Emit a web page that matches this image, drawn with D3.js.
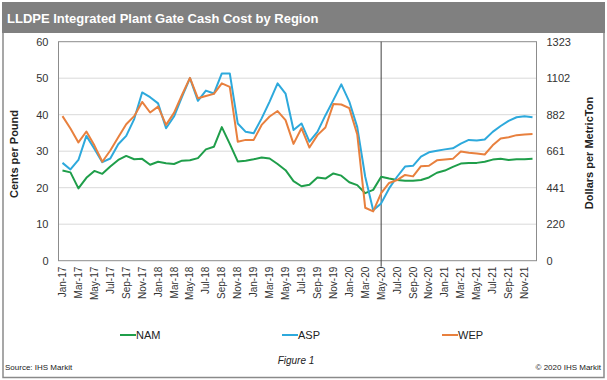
<!DOCTYPE html>
<html><head><meta charset="utf-8">
<script src="https://cdn.jsdelivr.net/npm/d3@7"></script>
<style>
html,body{margin:0;padding:0;background:#fff;}
svg{display:block;font-family:"Liberation Sans",Arial,sans-serif;}
</style></head>
<body>
<svg id="chart" width="607" height="380"></svg>
<script>
const months = ["Jan-17","Feb-17","Mar-17","Apr-17","May-17","Jun-17","Jul-17","Aug-17","Sep-17","Oct-17","Nov-17","Dec-17",
"Jan-18","Feb-18","Mar-18","Apr-18","May-18","Jun-18","Jul-18","Aug-18","Sep-18","Oct-18","Nov-18","Dec-18",
"Jan-19","Feb-19","Mar-19","Apr-19","May-19","Jun-19","Jul-19","Aug-19","Sep-19","Oct-19","Nov-19","Dec-19",
"Jan-20","Feb-20","Mar-20","Apr-20","May-20","Jun-20","Jul-20","Aug-20","Sep-20","Oct-20","Nov-20","Dec-20",
"Jan-21","Feb-21","Mar-21","Apr-21","May-21","Jun-21","Jul-21","Aug-21","Sep-21","Oct-21","Nov-21","Dec-21"];
const tickLabels = ["Jan-17","Mar-17","May-17","Jul-17","Sep-17","Nov-17","Jan-18","Mar-18","May-18","Jul-18","Sep-18","Nov-18",
"Jan-19","Mar-19","May-19","Jul-19","Sep-19","Nov-19","Jan-20","Mar-20","May-20","Jul-20","Sep-20","Nov-20",
"Jan-21","Mar-21","May-21","Jul-21","Sep-21","Nov-21"];
const nam = [24.7,24.2,19.8,22.7,24.6,23.8,25.8,27.6,28.7,27.8,27.9,26.3,
27.1,26.7,26.5,27.4,27.5,28.1,30.5,31.2,36.6,32.0,27.2,27.4,
27.8,28.3,28.0,26.5,24.8,21.8,20.4,20.8,22.8,22.5,23.9,23.3,
21.5,20.7,18.5,19.4,23.0,22.5,22.1,21.9,21.9,22.1,22.8,24.1,
24.7,25.7,26.6,26.8,26.8,27.1,27.7,27.9,27.6,27.8,27.8,27.9];
const asp = [26.8,25.0,27.6,34.2,30.7,27.0,28.0,31.9,34.2,38.8,46.1,44.8,
43.1,36.3,39.5,44.9,50.0,43.8,46.6,45.8,51.3,51.3,37.6,35.3,
34.9,39.0,43.6,48.6,45.8,35.8,37.6,32.6,35.3,39.8,44.0,48.3,
43.6,36.6,23.0,13.8,15.7,19.8,23.0,25.8,26.0,28.5,29.7,30.1,
30.5,30.8,32.1,33.1,32.9,33.2,35.3,36.9,38.3,39.3,39.6,39.3];
const wep = [39.6,36.2,32.4,35.4,31.6,27.1,30.2,33.8,37.4,39.6,43.5,40.6,
42.2,37.2,40.5,45.4,50.1,44.5,45.1,45.7,48.6,47.6,32.6,33.1,
33.1,37.2,39.5,41.0,38.5,32.0,36.3,31.0,34.4,36.5,42.9,42.8,
41.8,34.6,14.5,13.5,18.5,21.3,22.1,23.5,23.1,25.9,26.0,27.5,
27.7,27.9,29.9,29.6,29.4,29.1,31.6,33.5,33.8,34.4,34.6,34.7];
const seriesNames = ["NAM","ASP","WEP"];
const seriesColors = ["#1f9e4a","#2da9dc","#e8803e"];
const leftTicks = [0,10,20,30,40,50,60];
const rightTicks = [0,220,441,661,882,1102,1323];
const markerMonth = "May-20";

const svg = d3.select("#chart");
const P = {l:58.5, r:536.5, t:41.7, b:260.7};
const font = '"Liberation Sans",Arial,sans-serif';

// frame
svg.append("rect").attr("x",2).attr("y",2).attr("width",603).attr("height",31).attr("fill","#808080");
svg.append("path").attr("d","M3,33 V377.5 H604 V33").attr("fill","none").attr("stroke","#8a8a8a").attr("stroke-width",1.5);
svg.append("text").attr("x",7).attr("y",22.5).attr("fill","#fff").attr("font-weight","bold").attr("font-size",13)
  .text("LLDPE Integrated Plant Gate Cash Cost by Region");

const x = d3.scaleBand().domain(months).range([P.l,P.r]).padding(0);
const y = d3.scaleLinear().domain([0,60]).range([P.b,P.t]);
const y2 = d3.scaleLinear().domain([0,1323]).range([P.b,P.t]);
const cx = m => x(m) + x.bandwidth()/2;

// gridlines
svg.append("g").selectAll("line").data(leftTicks.filter(d=>d>0&&d<60)).join("line")
  .attr("x1",P.l).attr("x2",P.r).attr("y1",d=>y(d)).attr("y2",d=>y(d))
  .attr("stroke","#d9d9d9").attr("stroke-width",1);

// plot border
svg.append("rect").attr("x",P.l).attr("y",P.t).attr("width",P.r-P.l).attr("height",P.b-P.t)
  .attr("fill","none").attr("stroke","#8c8c8c").attr("stroke-width",1);

// left axis
const ga = svg.append("g").attr("transform",`translate(${P.l},0)`)
  .call(d3.axisLeft(y).tickValues(leftTicks).tickSize(0).tickPadding(10));
ga.select(".domain").remove();
ga.selectAll("text").attr("font-size",11).attr("font-family",font).attr("fill","#333");

const gb = svg.append("g").attr("transform",`translate(${P.r},0)`)
  .call(d3.axisRight(y2).tickValues(rightTicks).tickSize(0).tickPadding(10).tickFormat(d3.format("d")));
gb.select(".domain").remove();
gb.selectAll("text").attr("font-size",11).attr("font-family",font).attr("fill","#333");

// x axis
const gx = svg.append("g").attr("transform",`translate(0,${P.b})`)
  .call(d3.axisBottom(x).tickValues(tickLabels).tickSize(0));
gx.select(".domain").remove();
gx.selectAll("text").attr("font-size",10).attr("font-family",font).attr("fill","#333")
  .attr("text-anchor","end").attr("dy","0.35em").attr("y",0)
  .attr("transform","translate(0,6) rotate(-90)");

// marker vertical line
svg.append("line").attr("x1",cx(markerMonth)).attr("x2",cx(markerMonth)).attr("y1",P.t).attr("y2",P.b+6)
  .attr("stroke","#404040").attr("stroke-width",1);

// axis titles
svg.append("text").attr("transform","translate(18,154) rotate(-90)").attr("text-anchor","middle")
  .attr("font-size",11).attr("font-weight","bold").attr("fill","#222").text("Cents per Pound");
svg.append("text").attr("transform","translate(593,153) rotate(-90)").attr("text-anchor","middle")
  .attr("font-size",11).attr("font-weight","bold").attr("fill","#222").text("Dollars per MetricTon");

// lines
const line = d3.line().x((d,i)=>cx(months[i])).y(d=>y(d));
[nam,asp,wep].forEach((s,k)=>{
  svg.append("path").datum(s).attr("d",line).attr("fill","none")
    .attr("stroke",seriesColors[k]).attr("stroke-width",2).attr("stroke-linejoin","round");
});

// legend
const legX = [120,282,442];
seriesNames.forEach((n,k)=>{
  svg.append("line").attr("x1",legX[k]).attr("x2",legX[k]+16).attr("y1",335).attr("y2",335)
    .attr("stroke",seriesColors[k]).attr("stroke-width",2);
  svg.append("text").attr("x",legX[k]+16).attr("y",339).attr("font-size",11).attr("fill","#222").text(n);
});

// footer
svg.append("text").attr("x",5).attr("y",370).attr("font-size",8).attr("fill","#222").text("Source: IHS Markit");
svg.append("text").attr("x",296).attr("y",364).attr("text-anchor","middle").attr("font-size",10)
  .attr("font-style","italic").attr("fill","#222").text("Figure 1");
svg.append("text").attr("x",601).attr("y",370).attr("text-anchor","end").attr("font-size",8).attr("fill","#222").text("© 2020 IHS Markit");
</script>
</body></html>
